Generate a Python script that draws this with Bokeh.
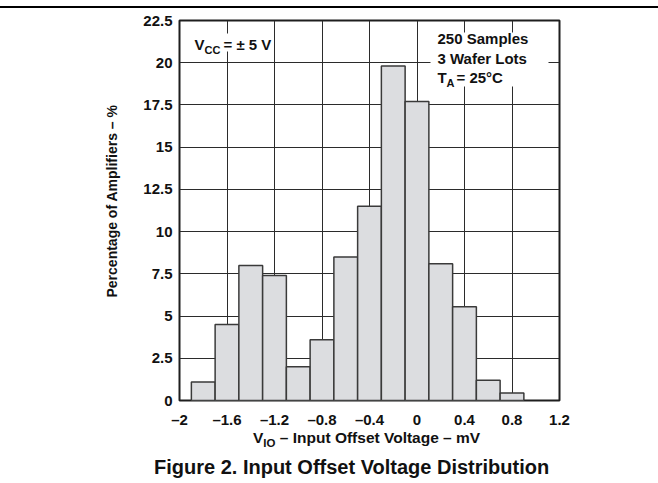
import math
from bokeh.plotting import figure
from bokeh.models import Range1d, FixedTicker, Label, BoxAnnotation, Div, Title
from bokeh.layouts import column
from bokeh.embed import file_html
from bokeh.resources import INLINE

# ---- data ----
bin_centers = [-1.8, -1.6, -1.4, -1.2, -1.0, -0.8, -0.6, -0.4, -0.2, 0.0, 0.2, 0.4, 0.6, 0.8]
percentages = [1.1, 4.5, 8.0, 7.4, 2.0, 3.6, 8.5, 11.5, 19.8, 17.7, 8.1, 5.55, 1.2, 0.45]
bin_width = 0.2
x_ticks = [-2.0, -1.6, -1.2, -0.8, -0.4, 0.0, 0.4, 0.8, 1.2]
x_tick_labels = ["\u20132", "\u20131.6", "\u20131.2", "\u20130.8", "\u20130.4", "0", "0.4", "0.8", "1.2"]
y_ticks = [0, 2.5, 5, 7.5, 10, 12.5, 15, 17.5, 20, 22.5]
y_tick_labels = ["0", "2.5", "5", "7.5", "10", "12.5", "15", "17.5", "20", "22.5"]
y_title = "Percentage of Amplifiers \u2013 %"
x_title_main = "V"
x_title_sub = "IO"
x_title_rest = " \u2013 Input Offset Voltage \u2013 mV"
caption = "Figure 2. Input Offset Voltage Distribution"

FONT = "Liberation Sans"
DARK = "#2b2b2b"

p = figure(width=658, height=422, output_backend="svg", toolbar_location=None,
           x_range=Range1d(-2, 1.2), y_range=Range1d(0, 22.5),
           min_border_left=179, min_border_right=99, min_border_top=12, min_border_bottom=30)
p.margin = (0, 0, 0, 0)
p.background_fill_color = "white"
p.border_fill_color = "white"
p.outline_line_color = "#1e1e1e"
p.outline_line_width = 2

p.vbar(x=bin_centers, top=percentages, width=bin_width, bottom=0,
       fill_color="#dcdde0", line_color="#3a3a3a", line_width=1.5)

# axes
p.xaxis.ticker = FixedTicker(ticks=x_ticks)
p.yaxis.ticker = FixedTicker(ticks=y_ticks)
p.xaxis.major_label_overrides = {v: t for v, t in zip(x_ticks, x_tick_labels)}
p.yaxis.major_label_overrides = {v: t for v, t in zip(y_ticks, y_tick_labels)}
for ax in (p.xaxis, p.yaxis):
    ax.axis_line_color = None
    ax.major_tick_line_color = None
    ax.minor_tick_line_color = None
    ax.major_tick_out = 0
    ax.major_tick_in = 0
    ax.major_label_text_font = FONT
    ax.major_label_text_font_style = "bold"
    ax.major_label_text_font_size = "15px"
    ax.major_label_text_color = "#111111"
p.xaxis.major_label_standoff = 10
p.yaxis.major_label_standoff = 7

p.grid.grid_line_color = DARK
p.grid.grid_line_width = 1
p.grid.grid_line_alpha = 1.0

# y-axis title (rotated, in the left panel)
p.add_layout(Title(text=y_title, align="left", offset=103, standoff=42,
                   text_font=FONT, text_font_style="bold", text_font_size="14px",
                   text_color="#111111"), "left")

# helpers converting reference pixel positions to data positions
def xd(px):
    return -2 + (px - 179) / 118.75

def yd(py):
    return (400 - py) / (380 / 22.5)

# white boxes behind annotations
p.add_layout(BoxAnnotation(left=xd(188), right=xd(270), top=yd(33), bottom=yd(51),
                           fill_color="white", fill_alpha=1.0, line_color=None))
p.add_layout(BoxAnnotation(left=xd(430), right=xd(548), top=yd(32), bottom=yd(86),
                           fill_color="white", fill_alpha=1.0, line_color=None))

def lab(x, y, text, size, align="left"):
    p.add_layout(Label(x=x, y=y, text=text, text_font=FONT, text_font_style="bold",
                       text_font_size=size, text_color="#111111", text_align=align,
                       text_baseline="middle"))

# V_CC = ± 5 V
lab(xd(194), yd(44), "V", "15px")
lab(xd(204), yd(49), "CC", "11px")
lab(xd(223), yd(44), "= \u00b1 5 V", "15px")

# right block
lab(xd(437), yd(38), "250 Samples", "15px")
lab(xd(437), yd(58), "3 Wafer Lots", "15px")
lab(xd(437), yd(77), "T", "15px")
lab(xd(446), yd(82), "A", "11px")
lab(xd(456), yd(77), "= 25\u00b0C", "15px")

rule = Div(width=658, height=2, margin=(6, 0, 0, 0), styles={"background-color": "#000000"})

bottom_html = (
    '<div style="position:relative;width:658px;height:53px;'
    'font-family:\'Liberation Sans\',Arial,sans-serif;font-weight:bold;color:#111111;">'
    '<div style="position:absolute;left:253px;top:0px;font-size:15.5px;line-height:15px;white-space:nowrap;">'
    + x_title_main
    + '<span style="font-size:11.5px;position:relative;top:4px;">' + x_title_sub + '</span>'
    + x_title_rest + '</div>'
    '<div style="position:absolute;left:154px;top:27px;font-size:20px;line-height:20px;white-space:nowrap;">'
    + caption + '</div></div>'
)
bottom = Div(text=bottom_html, width=658, height=53, margin=(0, 0, 0, 0))

layout = column(rule, p, bottom)

open("out.html", "w").write(file_html(layout, INLINE))
